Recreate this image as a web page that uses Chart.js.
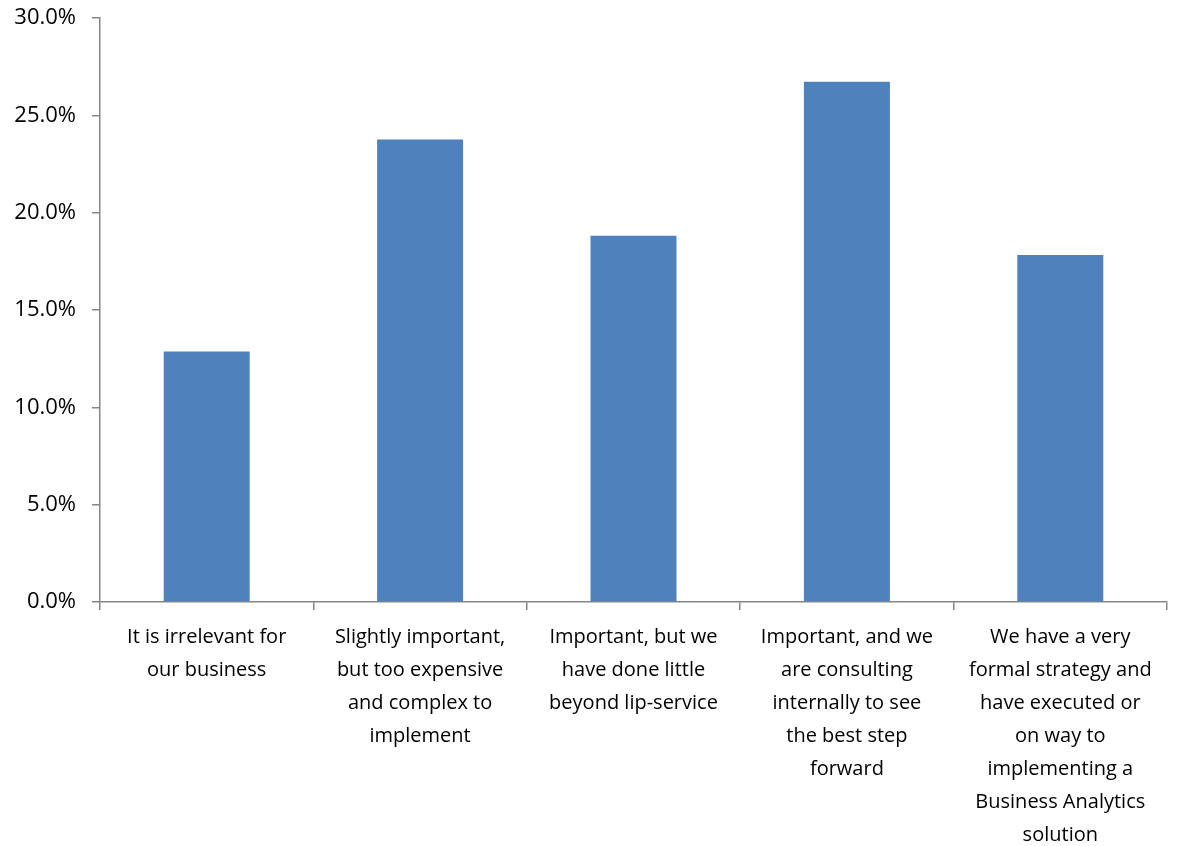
<!DOCTYPE html>
<html>
<head>
<meta charset="utf-8">
<script src="https://cdn.jsdelivr.net/npm/chart.js@4/dist/chart.umd.min.js"></script>
<style>
    html, body { margin: 0; padding: 0; background: #fff; }
    #wrap { width: 1177px; height: 846px; }
</style>
</head>
<body>
<div id="wrap"><canvas id="strategyChart"></canvas></div>
<script>
const categories = [
    ['It is irrelevant for', 'our business'],
    ['Slightly important,', 'but too expensive', 'and complex to', 'implement'],
    ['Important, but we', 'have done little', 'beyond lip-service'],
    ['Important, and we', 'are consulting', 'internally to see', 'the best step', 'forward'],
    ['We have a very', 'formal strategy and', 'have executed or', 'on way to', 'implementing a', 'Business Analytics', 'solution']
];
const shares = [12.87, 23.76, 18.81, 26.73, 17.82];
const yTicks = [0, 5, 10, 15, 20, 25, 30];

const axisGray = '#868686';
const fontFamily = '"Open Sans", sans-serif';

const ctx = document.getElementById('strategyChart').getContext('2d');

new Chart(ctx, {
    type: 'bar',
    data: {
        labels: categories,
        datasets: [{
            data: shares,
            backgroundColor: '#4F81BD',
            borderWidth: 0,
            categoryPercentage: 1,
            barPercentage: 0.403
        }]
    },
    options: {
        responsive: true,
        maintainAspectRatio: false,
        animation: false,
        layout: { padding: { top: 18, right: 10, left: 0, bottom: 0 } },
        plugins: {
            legend: { display: false },
            tooltip: { enabled: false }
        },
        scales: {
            x: {
                grid: { drawOnChartArea: false, drawTicks: true, tickLength: 8, color: axisGray, lineWidth: 1.5 },
                border: { color: axisGray, width: 1.5 },
                ticks: {
                    color: '#000',
                    font: { family: fontFamily, size: 20, lineHeight: 1.65 },
                    maxRotation: 0,
                    autoSkip: false,
                    padding: 11
                },
                afterFit: scale => {
                    scale.height = 244;
                    scale.paddingLeft = 0;
                    scale.paddingRight = 0;
                }
            },
            y: {
                min: 0,
                max: 30,
                afterBuildTicks: scale => { scale.ticks = yTicks.map(v => ({ value: v })); },
                grid: { drawOnChartArea: false, drawTicks: true, tickLength: 8, color: axisGray, lineWidth: 1.5 },
                border: { color: axisGray, width: 1.5 },
                ticks: {
                    color: '#000',
                    font: { family: fontFamily, size: 22 },
                    padding: 16,
                    callback: v => v.toFixed(1) + '%'
                },
                afterFit: scale => {
                    scale.width = 100;
                    // let the top label overhang the padding instead of pushing the plot down
                    scale.paddingTop = 0;
                    scale.paddingBottom = 0;
                }
            }
        }
    }
});
</script>
</body>
</html>
